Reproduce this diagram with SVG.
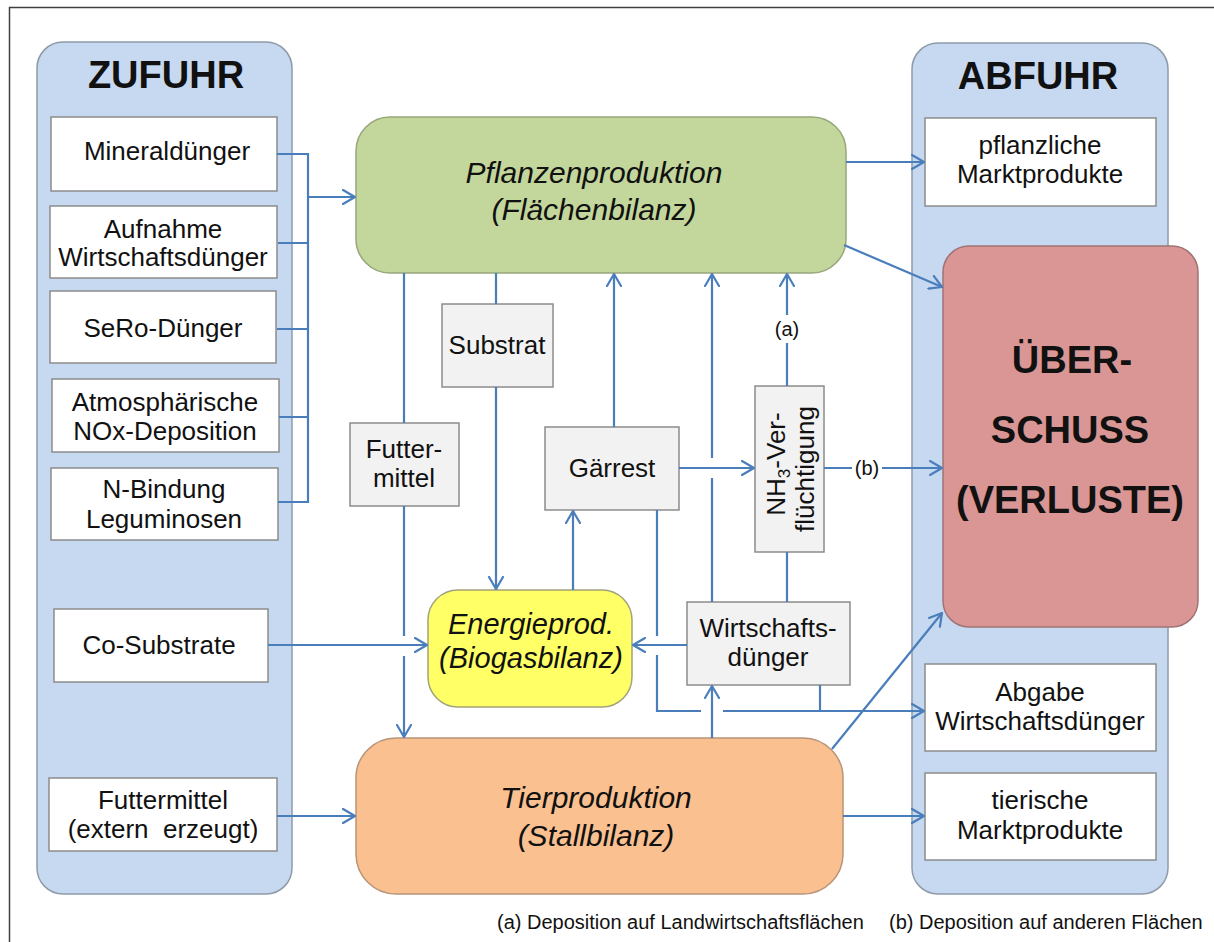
<svg xmlns="http://www.w3.org/2000/svg" width="1214" height="942" viewBox="0 0 1214 942">
<defs>
<style>
text{font-family:"Liberation Sans",Arial,sans-serif;fill:#111;text-anchor:middle}
.panel{fill:#c6d9f1;stroke:#8e9aa8;stroke-width:1.5}
.wbox{fill:#fff;stroke:#8c8c8c;stroke-width:1.5}
.gbox{fill:#f2f2f2;stroke:#8c8c8c;stroke-width:1.5}
.lbl{font-size:26px}
.title{font-size:38px;font-weight:bold}
.big{font-size:30px;font-style:italic}
.over{font-size:38px;font-weight:bold}
.foot{font-size:20px;text-anchor:start}
.c{fill:none;stroke:#4a7ebb;stroke-width:2.2}
.a{marker-end:url(#arr)}
</style>
<marker id="arr" viewBox="0 0 14 16" markerWidth="14" markerHeight="16" refX="13" refY="8" orient="auto" markerUnits="userSpaceOnUse">
<path d="M1,1 L13,8 L1,15" fill="none" stroke="#4a7ebb" stroke-width="2.2" stroke-linecap="round" stroke-linejoin="round"/>
</marker>
</defs>
<rect x="0" y="0" width="1214" height="942" fill="#fff"/>
<path d="M9.5,942 V7.5 H1214" fill="none" stroke="#404040" stroke-width="1.5"/>

<g id="zufuhr">
<rect class="panel" x="37" y="42" width="255" height="852" rx="26"/>
<text class="title" x="166" y="88">ZUFUHR</text>
</g>
<g id="abfuhr">
<rect class="panel" x="912" y="43" width="256" height="851" rx="26"/>
<text class="title" x="1038" y="89">ABFUHR</text>
</g>

<g id="mineralduenger"><rect class="wbox" x="51" y="117" width="226" height="74"/><text class="lbl" x="167" y="160">Mineraldünger</text></g>
<g id="aufnahme"><rect class="wbox" x="50" y="206" width="227" height="72"/><text class="lbl" x="163" y="238">Aufnahme</text><text class="lbl" x="163" y="266">Wirtschaftsdünger</text></g>
<g id="sero"><rect class="wbox" x="50" y="291" width="226" height="72"/><text class="lbl" x="163" y="337">SeRo-Dünger</text></g>
<g id="nox"><rect class="wbox" x="52" y="379" width="227" height="73"/><text class="lbl" x="165" y="411">Atmosphärische</text><text class="lbl" x="165" y="440">NOx-Deposition</text></g>
<g id="nbindung"><rect class="wbox" x="51" y="468" width="227" height="72"/><text class="lbl" x="164" y="498">N-Bindung</text><text class="lbl" x="164" y="528">Leguminosen</text></g>
<g id="cosubstrate"><rect class="wbox" x="54" y="609" width="214" height="73"/><text class="lbl" x="159" y="654">Co-Substrate</text></g>
<g id="futtermittel-extern"><rect class="wbox" x="49" y="778" width="228" height="73"/><text class="lbl" x="163" y="809">Futtermittel</text><text class="lbl" x="163" y="838" xml:space="preserve">(extern  erzeugt)</text></g>

<g id="pflanzliche"><rect class="wbox" x="925" y="118" width="231" height="88"/><text class="lbl" x="1040" y="154">pflanzliche</text><text class="lbl" x="1040" y="183">Marktprodukte</text></g>
<g id="abgabe"><rect class="wbox" x="925" y="664" width="231" height="87"/><text class="lbl" x="1040" y="701">Abgabe</text><text class="lbl" x="1040" y="730">Wirtschaftsdünger</text></g>
<g id="tierische"><rect class="wbox" x="925" y="773" width="231" height="87"/><text class="lbl" x="1040" y="809">tierische</text><text class="lbl" x="1040" y="839">Marktprodukte</text></g>

<g id="ueberschuss">
<rect x="943" y="246" width="255" height="381" rx="26" fill="#d99694" stroke="#a07474" stroke-width="1.5"/>
<text class="over" x="1072" y="373">ÜBER-</text>
<text class="over" x="1070" y="443">SCHUSS</text>
<text class="over" x="1070" y="513">(VERLUSTE)</text>
</g>

<g id="pflanzenproduktion">
<rect x="356" y="117" width="490" height="156" rx="34" fill="#c3d69b" stroke="#98a67c" stroke-width="1.5"/>
<text class="big" x="594" y="183">Pflanzenproduktion</text>
<text class="big" x="594" y="220">(Flächenbilanz)</text>
</g>
<g id="energieprod">
<rect x="428" y="590" width="204" height="117" rx="30" fill="#ffff66" stroke="#a3a37a" stroke-width="1.5"/>
<text class="big" x="531" y="634" style="font-size:29px">Energieprod.</text>
<text class="big" x="531" y="668" style="font-size:29px">(Biogasbilanz)</text>
</g>
<g id="tierproduktion">
<rect x="356" y="738" width="487" height="156" rx="40" fill="#fac090" stroke="#b89477" stroke-width="1.5"/>
<text class="big" x="596" y="808">Tierproduktion</text>
<text class="big" x="596" y="846">(Stallbilanz)</text>
</g>

<g id="substrat"><rect class="gbox" x="442" y="304" width="111" height="83"/><text class="lbl" x="497" y="354">Substrat</text></g>
<g id="futter-mittel"><rect class="gbox" x="350" y="423" width="109" height="83"/><text class="lbl" x="404" y="458">Futter-</text><text class="lbl" x="404" y="487">mittel</text></g>
<g id="gaerrest"><rect class="gbox" x="545" y="427" width="134" height="83"/><text class="lbl" x="612" y="477">Gärrest</text></g>
<g id="nh3"><rect class="gbox" x="755" y="386" width="69" height="166"/>
<text class="lbl" transform="translate(785,464) rotate(-90)">NH<tspan style="font-size:17px" dy="5">3</tspan><tspan dy="-5">-Ver-</tspan></text>
<text class="lbl" transform="translate(814,469) rotate(-90)">flüchtigung</text>
</g>
<g id="wirtschaftsduenger"><rect class="gbox" x="687" y="602" width="163" height="83"/><text class="lbl" x="768" y="637">Wirtschafts-</text><text class="lbl" x="768" y="666">dünger</text></g>

<g id="connectors">
<path class="c" d="M277,154 H308 M278,243 H308 M277,329 H308 M279,417 H308 M278,502 H308 M308,153 V503"/>
<path class="c a" d="M309,197 H355"/>
<path class="c" d="M404,273 V423 M404,506 V636"/>
<path class="c a" d="M404,656 V737"/>
<path class="c a" d="M268,645 H427"/>
<path class="c" d="M496,273 V304"/>
<path class="c a" d="M496,387 V589"/>
<path class="c a" d="M614,427 V274"/>
<path class="c a" d="M573,590 V511"/>
<path class="c" d="M712,602 V478"/>
<path class="c a" d="M712,458 V274"/>
<path class="c" d="M787,602 V552"/>
<path class="c a" d="M787,386 V274"/>
<path class="c a" d="M679,468 H754"/>
<path class="c a" d="M824,468 H942"/>
<path class="c a" d="M687,645 H633"/>
<path class="c" d="M657,510 V636 M657,655 V711 H701 M820,685 V711"/>
<path class="c a" d="M723,711 H924"/>
<path class="c a" d="M712,738 V686"/>
<path class="c a" d="M832,749 L942,613"/>
<path class="c a" d="M844,245 L942,287"/>
<path class="c a" d="M846,162 H924"/>
<path class="c a" d="M277,816 H355"/>
<path class="c a" d="M843,816 H924"/>
<rect x="773" y="315" width="28" height="28" fill="#fff"/>
<text class="lbl" x="787" y="336" style="font-size:20px">(a)</text>
<rect x="852" y="455" width="30" height="26" fill="#fff"/>
<text class="lbl" x="867" y="475" style="font-size:20px">(b)</text>
</g>

<g id="legend">
<text class="foot" x="497" y="929">(a) Deposition auf Landwirtschaftsflächen</text>
<text class="foot" x="889" y="929">(b) Deposition auf anderen Flächen</text>
</g>
</svg>
